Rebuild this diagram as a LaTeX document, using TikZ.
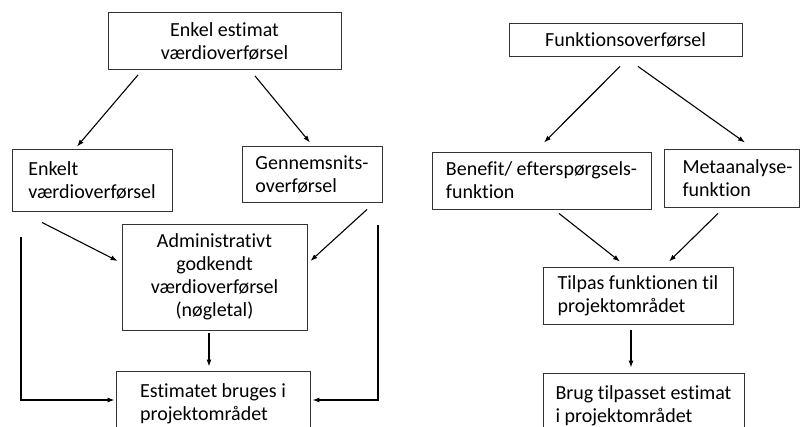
\documentclass[tikz,border=0pt]{standalone}
\usepackage{fontspec}
\setmainfont{Carlito}[RawFeature={-liga}]
\usetikzlibrary{arrows.meta,calc}
\begin{document}
\begin{tikzpicture}[x=1pt,y=-1pt,
  box/.style={draw=black!80,line width=0.9pt,fill=white,font=\fontsize{20}{23}\selectfont,inner sep=0pt,align=left},
  arr/.style={line width=1.1pt,-{Latex[length=7pt,width=5pt]}}]
\useasboundingbox (0,0) rectangle (801,427);
\clip (0,0) rectangle (801,427);
% left diagram
\node[box,minimum width=233pt,minimum height=57pt,align=center] (top) at (224.5,41) {Enkel estimat\\værdioverførsel};
\node[box,minimum width=160pt,minimum height=62pt] (enk) at (92,180) {Enkelt\\værdioverførsel};
\node[box,minimum width=140pt,minimum height=56pt] (gen) at (312,174) {Gennemsnits-\\overførsel};
\node[box,minimum width=185pt,minimum height=106pt,align=center] (adm) at (214.5,277) {Administrativt\\godkendt\\værdioverførsel\\(nøgletal)};
\node[box,minimum width=194pt,minimum height=66pt] (est) at (213,404) {Estimatet bruges i\\projektområdet};
\coordinate (l1) at (21,237);
\coordinate (r1) at (378,225);
\draw[arr] ([shift={(-86.5,5)}]top.south) -- ([shift={(-15,-2)}]enk.north);
\draw[arr] ([shift={(30.5,6)}]top.south) -- ([shift={(-2,-3)}]gen.north);
\draw[arr] ([shift={(-50,11)}]enk.south) -- ([shift={(-4,-16)}]adm.west);
\draw[arr] ([shift={(55,7)}]gen.south) -- ([shift={(3,-16)}]adm.east);
\draw[arr] ([shift={(-5.5,3)}]adm.south) -- ([shift={(-4,-4)}]est.north);
\draw[arr] (l1) |- ([shift={(-1,-4)}]est.west);
\draw[arr] (r1) |- ([shift={(2,-4)}]est.east);
% right diagram
\node[box,minimum width=233pt,minimum height=33pt,align=center] (fun) at (625.5,39.5) {Funktionsoverførsel};
\node[box,minimum width=219pt,minimum height=57pt] (ben) at (541.5,180.5) {Benefit/ efterspørgsels-\\funktion};
\node[box,minimum width=135pt,minimum height=58pt] (met) at (731.5,178) {\hspace*{12pt}Metaanalyse-\\\hspace*{12pt}funktion};
\node[box,minimum width=190pt,minimum height=57pt] (til) at (638,295.5) {Tilpas funktionen til\\projektområdet};
\node[box,minimum width=201pt,minimum height=66pt] (bru) at (643.5,406) {Brug tilpasset estimat\\i projektområdet};
\draw[arr] ([shift={(-5.5,10)}]fun.south) -- ([shift={(2.5,-9)}]ben.north);
\draw[arr] ([shift={(12.5,10)}]fun.south) -- ([shift={(13.5,-6)}]met.north);
\draw[arr] ([shift={(17.5,4)}]ben.south) -- ([shift={(-18,-5)}]til.north);
\draw[arr] ([shift={(-13.5,6)}]met.south) -- ([shift={(31,-5)}]til.north);
\draw[arr] ([shift={(-7,6)}]til.south) -- ([shift={(-12.5,-5)}]bru.north);
\end{tikzpicture}
\end{document}
